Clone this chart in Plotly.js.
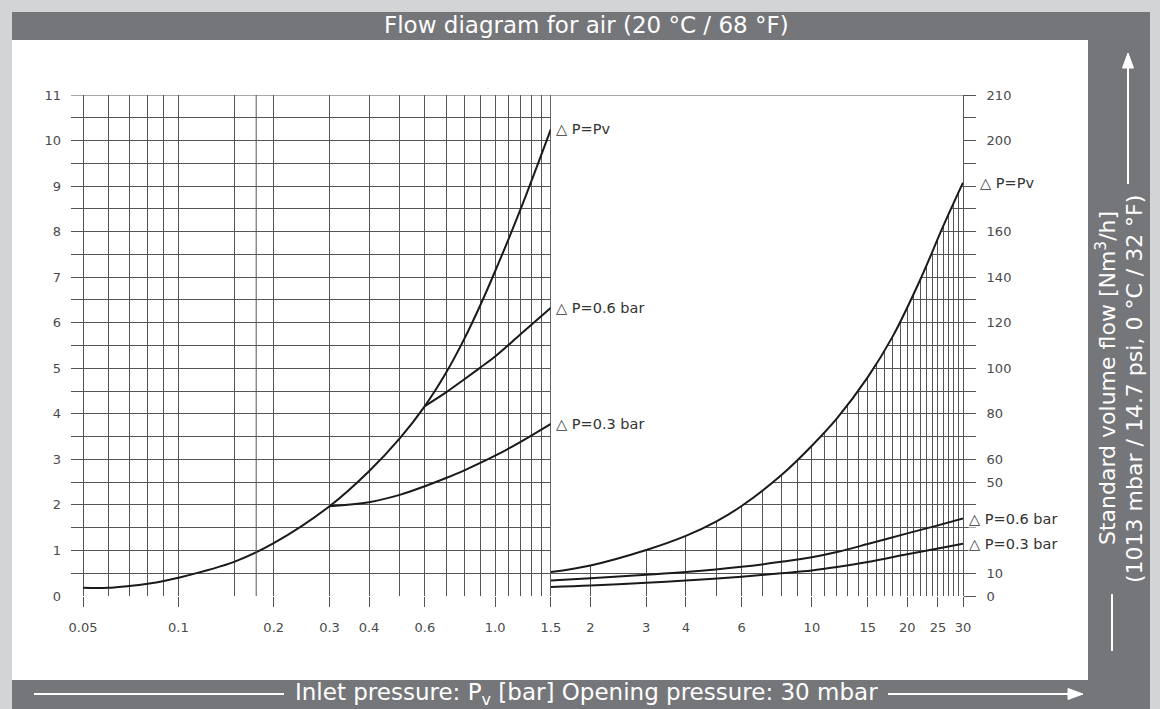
<!DOCTYPE html>
<html>
<head>
<meta charset="utf-8">
<script src="https://cdn.plot.ly/plotly-3.0.1.min.js"></script>
<style>
  html, body { margin: 0; padding: 0; background: #d3d4d6; }
  #chart { width: 1160px; height: 709px; }
</style>
</head>
<body>
<div id="chart"></div>
<script>
// Inlet pressure axis (bar)
const pressureTicks    = [0.05, 0.1, 0.2, 0.3, 0.4, 0.6, 1, 1.5, 2, 3, 4, 6, 10, 15, 20, 25, 30];
const pressureTickText = ["0.05", "0.1", "0.2", "0.3", "0.4", "0.6", "1.0", "1.5", "2", "3", "4", "6", "10", "15", "20", "25", "30"];
const pressureMinor    = [0.06, 0.07, 0.08, 0.09, 0.15, 0.5, 0.7, 0.8, 0.9, 1.1, 1.2, 1.3, 1.4,
                          5, 7, 8, 9, 11, 12, 13, 14, 16, 17, 18, 19, 21, 22, 23, 24, 26, 27, 28, 29];

// Left flow scale (low inlet pressure range)
const leftTicks = [0, 1, 2, 3, 4, 5, 6, 7, 8, 9, 10, 11];

// Right flow scale (high inlet pressure range); unlabelled ticks every 10
const rightTickVals = [0, 10, 50, 60, 80, 100, 120, 140, 160, 200, 220];
const rightTickText = ["0", "10", "50", "60", "80", "100", "120", "140", "160", "200", "210"];
const rightTickStep = 10;

// Low range curves: inlet pressure (bar) -> flow
const lowPvP  = [0.05, 0.06, 0.07, 0.08, 0.09, 0.1, 0.15, 0.2, 0.3, 0.4, 0.5, 0.6, 0.7, 0.8, 0.9, 1.0, 1.2, 1.5];
const lowPvQ  = [0.18, 0.18, 0.22, 0.27, 0.33, 0.40, 0.75, 1.16, 1.97, 2.74, 3.46, 4.17, 4.90, 5.65, 6.40, 7.13, 8.47, 10.25];
const low06P  = [0.6, 0.7, 0.8, 0.9, 1.0, 1.2, 1.5];
const low06Q  = [4.17, 4.47, 4.76, 5.02, 5.26, 5.74, 6.33];
const low03P  = [0.3, 0.4, 0.5, 0.6, 0.7, 0.8, 1.0, 1.2, 1.5];
const low03Q  = [1.97, 2.06, 2.22, 2.41, 2.59, 2.76, 3.08, 3.38, 3.78];

// High range curves: inlet pressure (bar) -> flow
const highPvP = [1.5, 2, 3, 4, 5, 6, 8, 10, 12, 15, 18, 22, 26, 30];
const highPvQ = [10.5, 13.4, 20.2, 26.4, 32.8, 39.5, 53, 66, 78, 96, 114, 139, 162.5, 181.5];
const highDpP = [1.5, 2, 3, 4, 6, 8, 10, 12, 15, 20, 25, 30];
const high06Q = [6.8, 7.8, 9.3, 10.5, 12.8, 15.0, 17.0, 19.3, 22.8, 27.5, 31.0, 34.0];
const high03Q = [4.0, 4.6, 5.8, 6.8, 8.5, 10.0, 11.2, 12.7, 14.9, 18.3, 20.9, 23.0];

const labelPv = "\u25B3 P=Pv";
const label06 = "\u25B3 P=0.6 bar";
const label03 = "\u25B3 P=0.3 bar";

// ---- geometry of the page ----
const W = 1160, H = 709;
const PL = 71, PR = 963, PT = 95, PB = 596;          // plot area in pixels
const firstTickPx = 83;                               // where 0.05 bar sits
const pMin = pressureTicks[0], pMax = pressureTicks[pressureTicks.length - 1];
const perDecade = (PR - firstTickPx) / Math.log10(pMax / pMin);
const xRange = [Math.log10(pMin) - (firstTickPx - PL) / perDecade, Math.log10(pMax)];
const rightTop = rightTickVals[rightTickVals.length - 1];

const fx = p => (p - PL) / (PR - PL);
const fy = p => (PB - p) / (PB - PT);

const FONT = "DejaVu Sans, Arial, sans-serif";
const GRID = "#555555";
const INK = "#1a1a1a";
const BAR = "#75767a";
const WHITE = "#ffffff";

const curve = (x, y, axis, extra) => Object.assign({
  type: "scatter", mode: "lines", x: x, y: y, yaxis: axis,
  line: { color: INK, width: 2, shape: "spline", smoothing: 1 },
  hoverinfo: "skip", showlegend: false
}, extra || {});

const traces = [
  curve(lowPvP, lowPvQ, "y"),
  curve(low06P, low06Q, "y"),
  curve(low03P, low03Q, "y"),
  // white mask above the high-range P=Pv curve hides the grid there
  curve(highPvP, highPvP.map(() => rightTop), "y2", { line: { width: 0, shape: "spline", smoothing: 1 } }),
  curve(highPvP, highPvQ, "y2", { fill: "tonexty", fillcolor: WHITE }),
  curve(highDpP, high06Q, "y2"),
  curve(highDpP, high03Q, "y2")
];

const tickFont = { family: FONT, size: 13, color: "#4a4a4a" };
const barFont = { family: FONT, size: 23, color: WHITE };
const sideFont = { family: FONT, size: 22, color: WHITE };
const markFont = { family: FONT, size: 14.5, color: "#333333" };

const endOf = a => a[a.length - 1];

const frameText = (text, x, y, extra) => Object.assign({
  text: text, xref: "paper", yref: "paper", x: fx(x), y: fy(y),
  xanchor: "center", yanchor: "middle", showarrow: false, font: barFont
}, extra || {});

const curveLabel = (text, x, y, axis, shift) => ({
  text: text, x: Math.log10(x), y: y, xref: "x", yref: axis,
  xanchor: "left", yanchor: "middle", xshift: shift, showarrow: false,
  font: markFont, bgcolor: WHITE, borderpad: 0
});

const annotations = [
  frameText("Flow diagram for air (20 °C / 68 °F)", 586, 25),
  frameText("Inlet pressure: P<sub>v</sub> [bar] Opening pressure: 30 mbar", 586, 694),
  frameText("Standard volume flow [Nm<sup>3</sup>/h]", 1106, 378, { textangle: -90, font: sideFont }),
  frameText("(1013 mbar / 14.7 psi, 0 °C / 32 °F)", 1134, 389, { textangle: -90, font: sideFont }),
  // curve labels, low range
  curveLabel(labelPv, endOf(lowPvP), endOf(lowPvQ), "y", 4),
  curveLabel(label06, endOf(low06P), endOf(low06Q), "y", 4),
  curveLabel(label03, endOf(low03P), endOf(low03Q), "y", 4),
  // curve labels, high range
  curveLabel(labelPv, endOf(highPvP), endOf(highPvQ), "y2", 16),
  curveLabel(label06, endOf(highDpP), endOf(high06Q), "y2", 5),
  curveLabel(label03, endOf(highDpP), endOf(high03Q), "y2", 5)
];

// paper-space helpers for the frame decorations (pixel input)
const segment = (x0, y0, x1, y1) => ({
  type: "line", xref: "paper", yref: "paper", x0: fx(x0), y0: fy(y0), x1: fx(x1), y1: fy(y1),
  line: { color: WHITE, width: 2 }
});
const triangle = pts => ({
  type: "path", xref: "paper", yref: "paper",
  path: "M " + pts.map(p => fx(p[0]) + "," + fy(p[1])).join(" L ") + " Z",
  fillcolor: WHITE, line: { color: WHITE, width: 1 }
});

const shapes = [
  // dark frame and white drawing sheet
  { type: "rect", xref: "paper", yref: "paper", x0: fx(12), x1: fx(1150), y0: fy(12), y1: fy(H + 5),
    fillcolor: BAR, line: { width: 0 }, layer: "below" },
  { type: "rect", xref: "paper", yref: "paper", x0: fx(12), x1: fx(1088), y0: fy(40), y1: fy(680),
    fillcolor: WHITE, line: { width: 0 }, layer: "below" },
  // arrows and lines around the axis captions
  segment(34, 694, 284, 694),
  segment(888, 694, 1070, 694),
  triangle([[1083, 694], [1068, 688.5], [1068, 699.5]]),
  segment(1128, 184, 1128, 66),
  triangle([[1128, 53], [1122.5, 68], [1133.5, 68]]),
  segment(1112, 594, 1112, 651),
  // range boundary and top border of the grid
  { type: "line", xref: "x", yref: "y", x0: Math.log10(1.5), x1: Math.log10(1.5), y0: 0, y1: endOf(leftTicks),
    line: { color: GRID, width: 1 }, layer: "above" },
  { type: "line", xref: "paper", yref: "y", x0: 0, x1: 1, y0: endOf(leftTicks), y1: endOf(leftTicks),
    line: { color: GRID, width: 1 }, layer: "above" }
];

const layout = {
  width: W, height: H,
  margin: { l: PL, r: W - PR, t: PT, b: H - PB, pad: 0 },
  paper_bgcolor: "#d3d4d6",
  plot_bgcolor: "rgba(0,0,0,0)",
  showlegend: false,
  font: { family: FONT },
  xaxis: {
    type: "log", range: xRange, fixedrange: true,
    tickmode: "array", tickvals: pressureTicks, ticktext: pressureTickText,
    ticks: "outside", ticklen: 10, tickwidth: 1, tickcolor: GRID,
    showgrid: true, gridcolor: GRID, gridwidth: 1,
    minor: { tickmode: "array", tickvals: pressureMinor, showgrid: true, gridcolor: GRID, gridwidth: 1, ticks: "" },
    showline: false, zeroline: false,
    tickfont: tickFont, ticklabelstandoff: 9
  },
  yaxis: {
    range: [0, endOf(leftTicks)], fixedrange: true,
    tickmode: "array", tickvals: leftTicks, ticks: "",
    showgrid: true, gridcolor: GRID, gridwidth: 1,
    minor: { dtick: 0.5, tick0: 0, showgrid: true, gridcolor: GRID, gridwidth: 1, ticks: "" },
    showline: false, zeroline: false,
    tickfont: tickFont, ticklabelstandoff: 9
  },
  yaxis2: {
    overlaying: "y", side: "right", anchor: "x",
    range: [0, rightTop], fixedrange: true,
    tickmode: "array", tickvals: rightTickVals, ticktext: rightTickText,
    ticks: "outside", ticklen: 12, tickwidth: 1, tickcolor: GRID,
    minor: { dtick: rightTickStep, tick0: 0, ticks: "outside", ticklen: 12, tickwidth: 1, tickcolor: GRID, showgrid: false },
    showgrid: false, zeroline: false,
    showline: true, linecolor: GRID, linewidth: 1,
    tickfont: tickFont, ticklabelstandoff: 8
  },
  shapes: shapes,
  annotations: annotations
};

Plotly.newPlot("chart", traces, layout, { displayModeBar: false, staticPlot: true });
</script>
</body>
</html>
